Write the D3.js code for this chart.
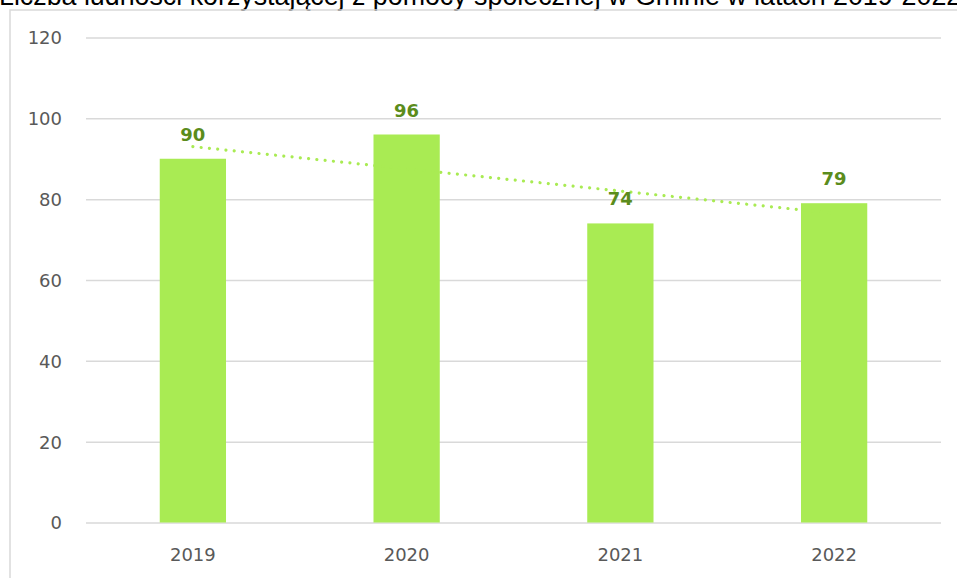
<!DOCTYPE html>
<html>
<head>
<meta charset="utf-8">
<script src="https://cdn.jsdelivr.net/npm/d3@7"></script>
<style>
  body { margin: 0; background: #fff; overflow: hidden; }
  .axis text { font-family: "DejaVu Sans", sans-serif; font-size: 18px; fill: #595959; }
  .axis .domain { display: none; }
  .y.axis line { stroke: #d9d9d9; stroke-width: 1.5; }
  .label { font-family: "DejaVu Sans", sans-serif; font-size: 18px; font-weight: bold; fill: #5b8c1c; }
</style>
</head>
<body>
<script>
// Chart data
var years = ["2019", "2020", "2021", "2022"];
var people = [90, 96, 74, 79];
var yTicks = [0, 20, 40, 60, 80, 100, 120];
var title = "Liczba ludności korzystającej z pomocy społecznej w Gminie w latach 2019-2022";

// Size of the visualization
var W = 957, H = 578;
var margin = {top: 37.5, right: 16, bottom: 55.5, left: 86},
    width = W - margin.left - margin.right,
    height = H - margin.top - margin.bottom;

var svg = d3.select("body").append("svg")
    .attr("width", W)
    .attr("height", H);

// Title (cut off at the top, as in the source)
svg.append("text")
    .attr("x", -1)
    .attr("y", 5)
    .style("font-family", "'Liberation Sans', Arial, sans-serif")
    .style("font-size", "26.8px")
    .style("fill", "#000")
    .text(title);

// Chart frame
svg.append("rect")
    .attr("x", 10)
    .attr("y", 10)
    .attr("width", W + 20)
    .attr("height", H + 20)
    .attr("fill", "none")
    .attr("stroke", "#d9d9d9")
    .attr("stroke-width", 1.5);

var g = svg.append("g")
    .attr("transform", "translate(" + margin.left + "," + margin.top + ")");

// Scales
var xScale = d3.scaleBand().domain(years).range([0, width])
    .paddingInner(0.69).paddingOuter(0.345);
var yScale = d3.scaleLinear().domain([0, 120]).range([height, 0]);

// Gridlines + y labels
g.append("g")
    .attr("class", "y axis")
    .call(d3.axisLeft(yScale).tickValues(yTicks).tickSize(-width).tickPadding(24))
  .selectAll("text")
    .attr("dy", "0.36em");

// Bars
g.selectAll(".bar")
    .data(people)
  .enter().append("rect")
    .attr("class", "bar")
    .attr("x", function(d, i) { return xScale(years[i]); })
    .attr("y", function(d) { return yScale(d); })
    .attr("width", xScale.bandwidth())
    .attr("height", function(d) { return height - yScale(d); })
    .attr("fill", "#a9eb53");

// Linear trendline (least squares over category index)
var n = people.length,
    mx = d3.mean(people, function(d, i) { return i + 1; }),
    my = d3.mean(people);
var sxy = d3.sum(people, function(d, i) { return (i + 1 - mx) * (d - my); }),
    sxx = d3.sum(people, function(d, i) { return (i + 1 - mx) * (i + 1 - mx); });
var slope = sxy / sxx, intercept = my - slope * mx;
var trend = [1, n].map(function(k) { return {year: years[k - 1], v: intercept + slope * k}; });

var line = d3.line()
    .x(function(d) { return xScale(d.year) + xScale.bandwidth() / 2; })
    .y(function(d) { return yScale(d.v); });

g.append("path")
    .datum(trend)
    .attr("d", line)
    .attr("fill", "none")
    .attr("stroke", "#a9eb53")
    .attr("stroke-width", 3.2)
    .attr("stroke-linecap", "round")
    .attr("stroke-dasharray", "0.01 8.3");

// Value labels
g.selectAll(".label")
    .data(people)
  .enter().append("text")
    .attr("class", "label")
    .attr("x", function(d, i) { return xScale(years[i]) + xScale.bandwidth() / 2; })
    .attr("y", function(d) { return yScale(d) - 18; })
    .attr("text-anchor", "middle")
    .text(function(d) { return d; });

// X axis labels
g.append("g")
    .attr("class", "x axis")
    .attr("transform", "translate(0," + height + ")")
    .call(d3.axisBottom(xScale).tickSize(0))
  .selectAll("text")
    .attr("y", 38.5)
    .attr("dy", 0);
</script>
</body>
</html>
